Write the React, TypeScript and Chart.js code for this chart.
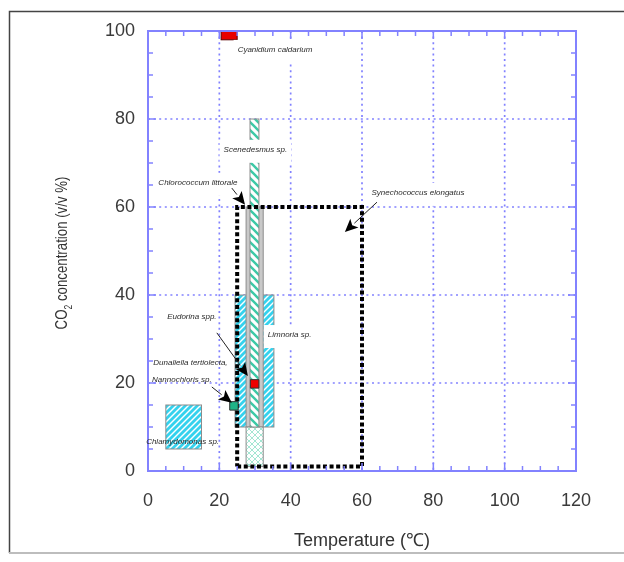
import React, { useEffect, useRef } from "react";
import { Chart, registerables } from "chart.js";

Chart.register(...registerables);

const FONT = '"Liberation Sans", Arial, sans-serif';
const BLUE = "#8282ff";

// ---- axes ----
const xMin = 0;
const xMax = 120;
const yMin = 0;
const yMax = 100;
const xGridValues = [20, 40, 60, 80, 100];
const yGridValues = [20, 40, 60, 80];
const xTitle = "Temperature (\u2103)";
const yTitleMain = "CO";
const yTitleSub = "2";
const yTitleRest = " concentration (v/v %)";

// ---- ranges (rectangles): temperature and CO2 limits ----
const rangeNames = [
  "Chlamydomonas sp.",
  "Limnoria sp.",
  "Chlorococcum littorale",
  "Chlorococcum littorale (base)",
  "Scenedesmus sp.",
  "Cyanidium caldarium",
];
const rangeTempMin = [5, 24.4, 27.5, 27.5, 28.6, 20.5];
const rangeTempMax = [15, 35.3, 32.3, 32.3, 31.1, 25];
const rangeCO2Min = [5, 10, 10, 1, 10, 98];
const rangeCO2Max = [15, 40, 60, 10, 80, 100];
const rangeFills = ["cyanHatch", "cyanHatch", "gray", "mintCross", "tealHatch", "red"];

// ---- Synechococcus elongatus range (dotted outline) ----
const synTemp = [25, 60];
const synCO2 = [1, 60];

// ---- single points ----
const pointNames = ["Eudorina spp.", "Nannochloris sp."];
const pointTemp = [29.9, 24.1];
const pointCO2 = [19.8, 14.8];
const pointColors = ["#ee0000", "#1fb487"];

// ---- labels ----
const labelTexts = [
  "Cyanidium caldarium",
  "Scenedesmus sp.",
  "Chlorococcum littorale",
  "Synechococcus elongatus",
  "Eudorina spp.",
  "Limnoria sp.",
  "Dunaliella tertiolecta,",
  "Nannochloris sp.",
  "Chlamydomonas sp.",
];
const labelTemp = [35.6, 30.1, 14, 75.7, 12.3, 39.7, 11.9, 9.5, 9.7];
const labelCO2 = [95.7, 73, 65.5, 63.2, 35, 30.9, 24.5, 20.7, 6.6];
const labelBoxed = [true, true, true, true, false, true, false, false, false];

// ---- arrows ----
const arrowFromTemp = [23.5, 64.2, 19.3, 17.9];
const arrowFromCO2 = [64.3, 61.1, 31.4, 19.1];
const arrowToTemp = [27.2, 55.2, 28.0, 23.5];
const arrowToCO2 = [60.5, 54.3, 21.6, 15.5];

function makePattern(ctx: CanvasRenderingContext2D, kind: string): CanvasPattern | string {
  if (kind === "gray") return "#c9c9c9";
  if (kind === "red") return "#e80000";
  const c = document.createElement("canvas");
  const s = kind === "tealHatch" ? 8 : 6;
  c.width = s;
  c.height = s;
  const g = c.getContext("2d")!;
  const seg = (x1: number, y1: number, x2: number, y2: number) => {
    g.beginPath();
    g.moveTo(x1, y1);
    g.lineTo(x2, y2);
    g.stroke();
  };
  const slash = () => {
    seg(-1, s + 1, s + 1, -1);
    seg(-1, 1, 1, -1);
    seg(s - 1, s + 1, s + 1, s - 1);
  };
  const back = () => {
    seg(-1, -1, s + 1, s + 1);
    seg(s - 1, -1, s + 1, 1);
    seg(-1, s - 1, 1, s + 1);
  };
  if (kind === "cyanHatch") {
    g.fillStyle = "#34d2ee";
    g.fillRect(0, 0, s, s);
    g.strokeStyle = "#ffffff";
    g.lineWidth = 1.4;
    slash();
  } else if (kind === "tealHatch") {
    g.fillStyle = "#ffffff";
    g.fillRect(0, 0, s, s);
    g.strokeStyle = "#3cc9a6";
    g.lineWidth = 2.4;
    back();
  } else if (kind === "mintCross") {
    g.fillStyle = "#ffffff";
    g.fillRect(0, 0, s, s);
    g.strokeStyle = "#a3e6d2";
    g.lineWidth = 1;
    slash();
    back();
  }
  return ctx.createPattern(c, "repeat") as CanvasPattern;
}

function drawArrow(ctx: CanvasRenderingContext2D, x1: number, y1: number, x2: number, y2: number) {
  const ang = Math.atan2(y2 - y1, x2 - x1);
  const hl = 13;
  const hw = 6;
  const bx = x2 - hl * Math.cos(ang);
  const by = y2 - hl * Math.sin(ang);
  ctx.strokeStyle = "#222";
  ctx.lineWidth = 1;
  ctx.beginPath();
  ctx.moveTo(x1, y1);
  ctx.lineTo(bx, by);
  ctx.stroke();
  ctx.fillStyle = "#000";
  ctx.beginPath();
  ctx.moveTo(x2, y2);
  ctx.lineTo(bx + hw * Math.sin(ang), by - hw * Math.cos(ang));
  ctx.lineTo(bx + 3 * Math.cos(ang), by + 3 * Math.sin(ang));
  ctx.lineTo(bx - hw * Math.sin(ang), by + hw * Math.cos(ang));
  ctx.closePath();
  ctx.fill();
}

const drawPlugin = {
  id: "co2TempDraw",
  beforeDatasetsDraw(chart: any) {
    const { ctx, chartArea: a, scales } = chart;
    const x = scales.x;
    const y = scales.y;
    ctx.save();
    // dotted grid
    ctx.strokeStyle = BLUE;
    ctx.lineWidth = 1.7;
    ctx.setLineDash([2, 3.6]);
    xGridValues.forEach((v) => {
      const p = x.getPixelForValue(v);
      ctx.beginPath();
      ctx.moveTo(p, a.top);
      ctx.lineTo(p, a.bottom);
      ctx.stroke();
    });
    yGridValues.forEach((v) => {
      const p = y.getPixelForValue(v);
      ctx.beginPath();
      ctx.moveTo(a.left, p);
      ctx.lineTo(a.right, p);
      ctx.stroke();
    });
    ctx.setLineDash([]);
    // ranges
    rangeNames.forEach((_, i) => {
      const x1 = x.getPixelForValue(rangeTempMin[i]);
      const x2 = x.getPixelForValue(rangeTempMax[i]);
      const y1 = y.getPixelForValue(rangeCO2Max[i]);
      const y2 = y.getPixelForValue(rangeCO2Min[i]);
      ctx.fillStyle = makePattern(ctx, rangeFills[i]);
      ctx.fillRect(x1, y1, x2 - x1, y2 - y1);
      ctx.strokeStyle = rangeFills[i] === "red" ? "#5a0000" : "#8c8c8c";
      ctx.lineWidth = 1;
      ctx.strokeRect(x1, y1, x2 - x1, y2 - y1);
    });
    ctx.restore();
  },
  afterDatasetsDraw(chart: any) {
    const { ctx, chartArea: a, scales } = chart;
    const x = scales.x;
    const y = scales.y;
    ctx.save();
    // frame
    ctx.strokeStyle = BLUE;
    ctx.lineWidth = 2;
    ctx.strokeRect(a.left, a.top, a.right - a.left, a.bottom - a.top);
    ctx.lineWidth = 1.5;
    for (let v = xMin + 5; v < xMax; v += 5) {
      const p = x.getPixelForValue(v);
      const len = v % 20 === 0 ? 8 : 5;
      ctx.beginPath();
      ctx.moveTo(p, a.bottom);
      ctx.lineTo(p, a.bottom - len);
      ctx.moveTo(p, a.top);
      ctx.lineTo(p, a.top + len);
      ctx.stroke();
    }
    for (let v = yMin + 5; v < yMax; v += 5) {
      const p = y.getPixelForValue(v);
      const len = v % 20 === 0 ? 8 : 5;
      ctx.beginPath();
      ctx.moveTo(a.left, p);
      ctx.lineTo(a.left + len, p);
      ctx.moveTo(a.right, p);
      ctx.lineTo(a.right - len, p);
      ctx.stroke();
    }
    // labels
    ctx.font = `italic 8px ${FONT}`;
    ctx.textAlign = "center";
    ctx.textBaseline = "middle";
    labelTexts.forEach((t, i) => {
      const cx = x.getPixelForValue(labelTemp[i]);
      const cy = y.getPixelForValue(labelCO2[i]);
      const w = ctx.measureText(t).width;
      if (labelBoxed[i]) {
        ctx.fillStyle = "#ffffff";
        ctx.fillRect(cx - w / 2 - 4, cy - 10, w + 8, 23);
      }
      ctx.fillStyle = "#2a2a2a";
      ctx.fillText(t, cx, cy);
    });
    // arrows
    arrowFromTemp.forEach((_, i) => {
      drawArrow(
        ctx,
        x.getPixelForValue(arrowFromTemp[i]),
        y.getPixelForValue(arrowFromCO2[i]),
        x.getPixelForValue(arrowToTemp[i]),
        y.getPixelForValue(arrowToCO2[i])
      );
    });
    ctx.restore();
  },
  afterDraw(chart: any) {
    const { ctx, chartArea: a } = chart;
    ctx.save();
    // x title
    ctx.fillStyle = "#333";
    ctx.font = `18px ${FONT}`;
    ctx.textAlign = "center";
    ctx.textBaseline = "middle";
    ctx.fillText(xTitle, (a.left + a.right) / 2, 541);
    // y title (rotated, condensed)
    ctx.translate(62, 253);
    ctx.rotate(-Math.PI / 2);
    ctx.scale(0.78, 1);
    ctx.textAlign = "left";
    ctx.font = `17px ${FONT}`;
    const w1 = ctx.measureText(yTitleMain).width;
    const w3 = ctx.measureText(yTitleRest).width;
    ctx.font = `11px ${FONT}`;
    const w2 = ctx.measureText(yTitleSub).width;
    let sx = -(w1 + w2 + w3) / 2;
    ctx.font = `17px ${FONT}`;
    ctx.fillText(yTitleMain, sx, 0);
    sx += w1;
    ctx.font = `11px ${FONT}`;
    ctx.fillText(yTitleSub, sx, 7);
    sx += w2;
    ctx.font = `17px ${FONT}`;
    ctx.fillText(yTitleRest, sx, 0);
    ctx.restore();
    // outer frame
    ctx.save();
    ctx.strokeStyle = "#444";
    ctx.lineWidth = 1.5;
    ctx.beginPath();
    ctx.moveTo(9.5, 553);
    ctx.lineTo(9.5, 11.5);
    ctx.lineTo(624, 11.5);
    ctx.stroke();
    ctx.strokeStyle = "#bdbdbd";
    ctx.lineWidth = 2;
    ctx.beginPath();
    ctx.moveTo(9, 553);
    ctx.lineTo(624, 553);
    ctx.stroke();
    ctx.restore();
  },
};

export default function App() {
  const ref = useRef<HTMLCanvasElement>(null);
  useEffect(() => {
    const canvas = ref.current!;
    const synData = [
      { x: synTemp[0], y: synCO2[0] },
      { x: synTemp[1], y: synCO2[0] },
      { x: synTemp[1], y: synCO2[1] },
      { x: synTemp[0], y: synCO2[1] },
      { x: synTemp[0], y: synCO2[0] },
    ];
    const chart = new Chart(canvas, {
      type: "scatter",
      data: {
        datasets: [
          {
            label: "points",
            data: pointTemp.map((t, i) => ({ x: t, y: pointCO2[i] })),
            pointStyle: "rect",
            pointRadius: 6,
            pointBackgroundColor: pointColors,
            pointBorderColor: "#333",
            pointBorderWidth: 1,
            showLine: false,
          },
          {
            label: "Synechococcus elongatus",
            data: synData,
            showLine: true,
            pointRadius: 0,
            borderColor: "#000",
            borderWidth: 4,
            borderDash: [4, 2.6],
            borderCapStyle: "butt",
            borderJoinStyle: "miter",
            fill: false,
          } as any,
        ],
      },
      options: {
        responsive: false,
        animation: false,
        devicePixelRatio: 1,
        layout: { padding: { left: 0, right: 48, top: 31, bottom: 0 } },
        plugins: { legend: { display: false }, tooltip: { enabled: false } },
        scales: {
          x: {
            type: "linear",
            min: xMin,
            max: xMax,
            afterFit: (s: any) => {
              s.height = 91;
            },
            grid: { display: false, drawTicks: false },
            border: { display: false },
            ticks: {
              stepSize: 20,
              padding: 19,
              maxRotation: 0,
              color: "#3a3a3a",
              font: { family: FONT, size: 18 },
            },
          },
          y: {
            type: "linear",
            min: yMin,
            max: yMax,
            afterFit: (s: any) => {
              s.width = 148;
            },
            grid: { display: false, drawTicks: false },
            border: { display: false },
            ticks: {
              stepSize: 20,
              padding: 13,
              color: "#3a3a3a",
              font: { family: FONT, size: 18 },
            },
          },
        },
      },
      plugins: [drawPlugin],
    } as any);
    return () => chart.destroy();
  }, []);
  return (
    <div style={{ position: "absolute", left: 0, top: 0, width: 624, height: 562, background: "#fff" }}>
      <canvas ref={ref} width={624} height={562} style={{ display: "block" }} />
    </div>
  );
}
